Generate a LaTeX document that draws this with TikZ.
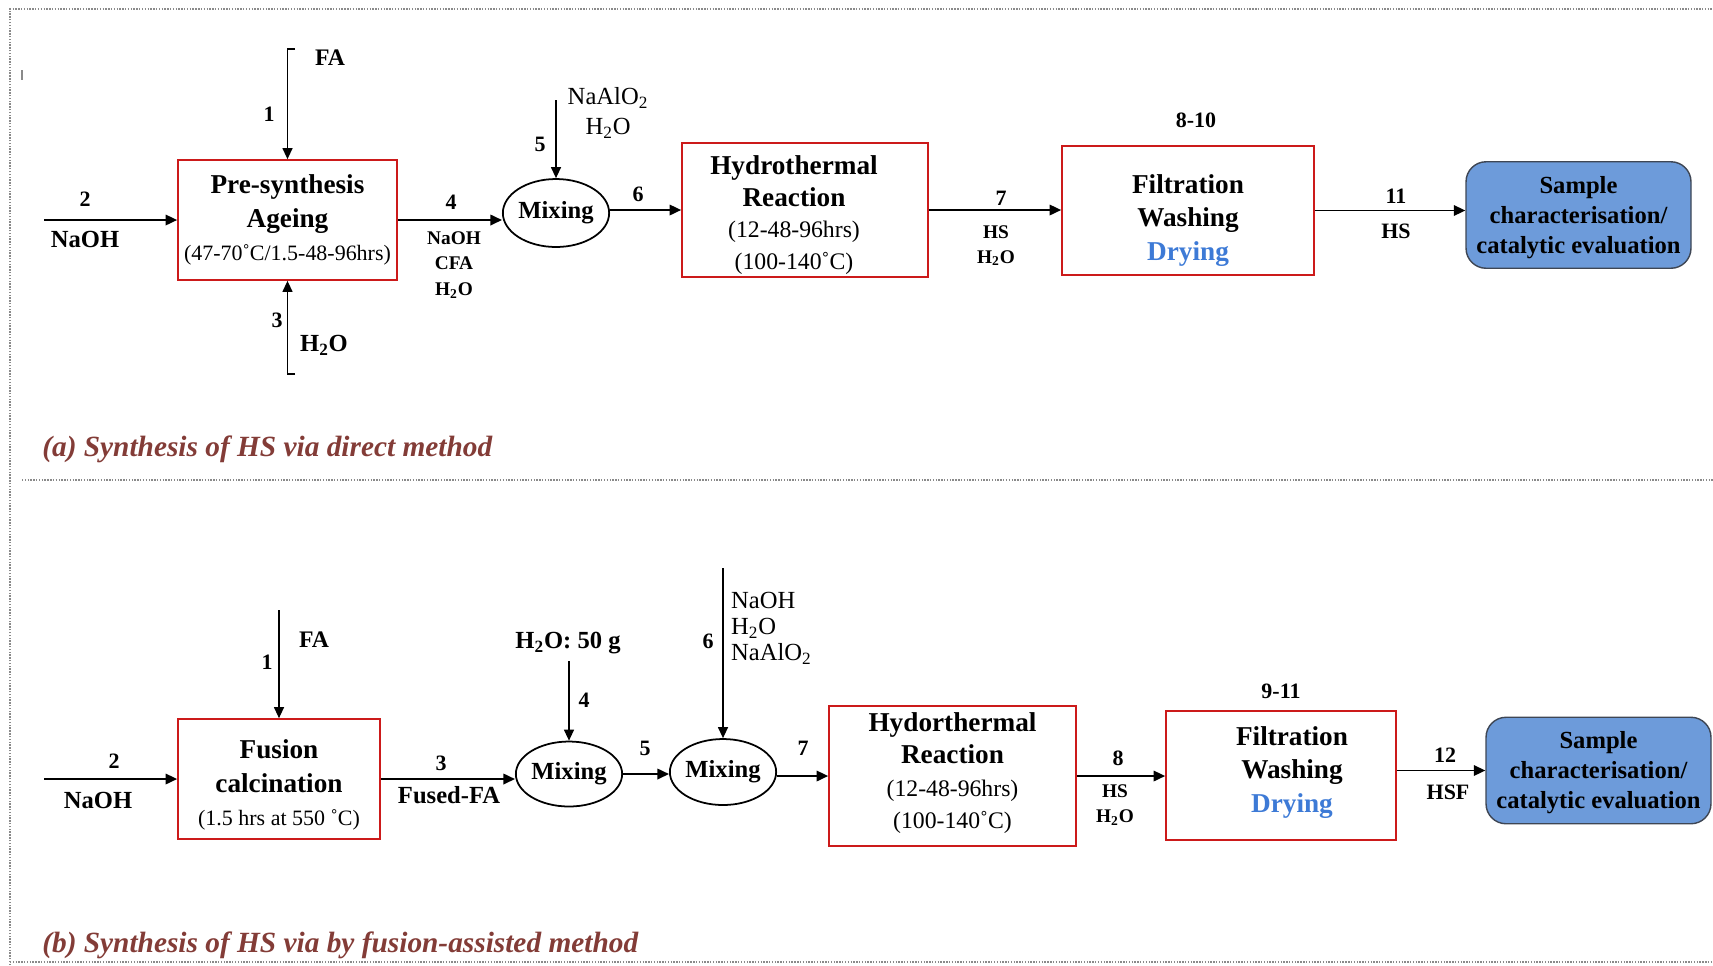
\documentclass[tikz,border=0pt]{standalone}
\usepackage{fontspec}
\setmainfont{Liberation Serif}
\usetikzlibrary{positioning,arrows.meta,shapes.geometric}
\definecolor{crojo}{HTML}{CC1A1A}
\definecolor{cazul}{HTML}{6D9BDA}
\definecolor{cborde}{HTML}{3E4654}
\definecolor{cseca}{HTML}{3D7AD6}
\definecolor{cvino}{HTML}{833C37}
\definecolor{cpunto}{HTML}{8A8A8A}
\newcommand{\ind}[1]{\textsubscript{#1}}
\newcommand{\fs}[2]{\fontsize{#1}{#2}\selectfont}
\tikzset{
  proc/.style={rectangle, draw=crojo, line width=1pt},
  ptxt/.style={align=center, inner sep=0pt, font=\fs{15.5}{19}\bfseries},
  mezcla/.style={ellipse, draw, line width=1pt, inner sep=0pt,
    minimum width=2.1cm, minimum height=1.36cm, font=\fs{14}{17}\bfseries},
  muestra/.style={rectangle, rounded corners=0.4cm, draw=cborde, line width=0.8pt,
    fill=cazul, minimum width=4.5cm, minimum height=2.13cm},
  stxt/.style={align=center, inner sep=0pt, font=\fs{14}{17}\bfseries},
  flujo/.style={-{Triangle[length=2.3mm,width=2.1mm]}, line width=1pt},
  entrada/.style={-{Triangle[length=2.2mm,width=2mm]}, line width=0.7pt},
  num/.style={font=\fs{12.5}{14}\bfseries, inner sep=1pt},
  etq/.style={font=\fs{14}{17}\bfseries, inner sep=1pt},
  etqc/.style={font=\fs{11}{14.5}\bfseries, align=center, inner sep=1pt},
  etqn/.style={font=\fs{14}{17}, align=center, inner sep=1pt},
  titulo/.style={font=\fs{16.7}{20}\bfseries\itshape, text=cvino, anchor=west, inner sep=0pt},
  marco/.style={draw=cpunto, line width=0.6pt, dash pattern=on 0.8pt off 0.8pt},
}

\begin{document}
\begin{tikzpicture}[x=0.02cm, y=-0.02cm]
  \useasboundingbox (0,0) rectangle (1713,965);
  % frame
  \draw[marco] (10,965) -- (10,9) -- (1713,9);
  \draw[marco] (22,480) -- (1713,480);
  \draw[marco] (10,962) -- (1713,962);
  \draw[cpunto, line width=0.6pt] (22,70) -- (22,80);

  % (a) direct method
  \node[proc, minimum width=4.38cm, minimum height=2.4cm,
    label={[ptxt]center:{Pre-synthesis\\ Ageing\\ {\fs{12.5}{19}\mdseries (47-70˚C/1.5-48-96hrs)}}}]
    (pre) at (287.5,220) {};
  \node[mezcla] (mixA) at (556,213) {Mixing};
  \node[proc, minimum width=4.92cm, minimum height=2.68cm,
    label={[ptxt, font=\fs{15.5}{18}\bfseries, xshift=-0.22cm, yshift=-0.1cm]center:{Hydrothermal\\ Reaction\\ {\fs{13.5}{18}\mdseries (12-48-96hrs)}\\ {\fs{13.5}{18}\mdseries (100-140˚C)}}}]
    (hydA) at (805,210) {};
  \node[proc, minimum width=5.04cm, minimum height=2.58cm,
    label={[ptxt, yshift=-0.2cm]center:{Filtration\\ Washing\\ \textcolor{cseca}{Drying}}}]
    (filA) at (1188,210.5) {};
  \node[muestra, label={[stxt, yshift=-0.05cm]center:{Sample\\ characterisation/\\ catalytic evaluation}}]
    (samA) at (1578.5,215) {};

  \coordinate (naoA) at (44,220);
  \coordinate (faA) at (295,49);
  \coordinate (h2A) at (295,374);
  \coordinate (alA) at (556,100);

  \draw[flujo] (naoA) -- (pre.west);
  \draw[entrada] (faA) -| (pre.north);
  \draw[entrada] (h2A) -| (pre.south);
  \draw[flujo] (pre.east) -- (pre.east -| mixA.west);
  \draw[entrada] (alA) -- (mixA.north);
  \draw[flujo] (mixA.east |- hydA.west) -- (hydA.west);
  \draw[flujo] (hydA.east) -- (hydA.east -| filA.west);
  \draw[flujo] (filA.east) -- (filA.east -| samA.west);

  \node[num] (n2A) at (85,199) {2};
  \node[etq] (naohA) at (85,239) {NaOH};
  \node[etq, font=\fs{13.5}{16}\bfseries] (faAl) at (330,58) {FA};
  \node[num] (n1A) at (269,114) {1};
  \node[num] (n3A) at (277,320) {3};
  \node[etq] (h2Al) at (324,345) {H\ind{2}O};
  \node[num] (n4A) at (451,202) {4};
  \node[etqc] (m4A) at (454,265) {NaOH\\ CFA\\ H\ind{2}O};
  \node[num] (n5A) at (540,144) {5};
  \node[etqn] (m5A) at (608,113) {NaAlO\ind{2}\\ H\ind{2}O};
  \node[num] (n6A) at (638,194) {6};
  \node[num] (n7A) at (1001,198) {7};
  \node[etqc, font=\fs{11}{13.7}\bfseries] (m7A) at (996,246) {HS\\ H\ind{2}O};
  \node[num, above=0.3cm of filA, xshift=0.16cm] (n8A) {8-10};
  \node[num] (n11A) at (1396,196) {11};
  \node[etq, font=\fs{12.5}{15}\bfseries] (m11A) at (1396,231) {HS};
  \node[titulo] (capA) at (42,449) {(a) Synthesis of HS via direct method};

  % (b) fusion-assisted method
  \node[proc, minimum width=4.04cm, minimum height=2.4cm,
    label={[ptxt, yshift=-0.12cm]center:{Fusion\\ calcination\\ {\fs{12.5}{19}\mdseries (1.5 hrs at 550 ˚C)}}}]
    (fus) at (279,779) {};
  \node[mezcla, minimum height=1.3cm] (mixB1) at (569,774) {Mixing};
  \node[mezcla, minimum height=1.32cm] (mixB2) at (723,772) {Mixing};
  \node[proc, minimum width=4.94cm, minimum height=2.8cm,
    label={[ptxt, font=\fs{15.5}{18.3}\bfseries, yshift=0.06cm]center:{Hydorthermal\\ Reaction\\ {\fs{13.5}{18.3}\mdseries (12-48-96hrs)}\\ {\fs{13.5}{18.3}\mdseries (100-140˚C)}}}]
    (hydB) at (952.5,776) {};
  \node[proc, minimum width=4.6cm, minimum height=2.58cm,
    label={[ptxt, xshift=0.22cm, yshift=0.06cm]center:{Filtration\\ Washing\\ \textcolor{cseca}{Drying}}}]
    (filB) at (1281,775.5) {};
  \node[muestra, label={[stxt, yshift=-0.04cm]center:{Sample\\ characterisation/\\ catalytic evaluation}}]
    (samB) at (1598.5,770.5) {};

  \coordinate (naoB) at (44,779);
  \coordinate (faB) at (279,610);
  \coordinate (wB) at (569,661);
  \coordinate (nB) at (723,568);

  \draw[flujo] (naoB) -- (fus.west);
  \draw[entrada] (faB) -- (fus.north);
  \draw[flujo] (fus.east) -- (fus.east -| mixB1.west);
  \draw[entrada] (wB) -- (mixB1.north);
  \draw[flujo] (mixB1.east) -- (mixB1.east -| mixB2.west);
  \draw[entrada] (nB) -- (mixB2.north);
  \draw[flujo] (mixB2.east |- hydB.west) -- (hydB.west);
  \draw[flujo] (hydB.east) -- (hydB.east -| filB.west);
  \draw[flujo] (filB.east |- samB.west) -- (samB.west);

  \node[num] (n2B) at (114,761) {2};
  \node[etq] (naohB) at (98,800) {NaOH};
  \node[etq, font=\fs{13.5}{16}\bfseries] (faBl) at (314,640) {FA};
  \node[num] (n1B) at (267,662) {1};
  \node[num] (n3B) at (441,763) {3};
  \node[etq] (m3B) at (449,795) {Fused-FA};
  \node[etq] (m4B) at (568,643) {H\ind{2}O: 50 g};
  \node[num] (n4B) at (584,700) {4};
  \node[num] (n5B) at (645,748) {5};
  \node[num] (n6B) at (708,641) {6};
  \node[etqn, font=\fs{14}{14.8}, align=left, anchor=west] (m6B) at (729,628) {NaOH\\ H\ind{2}O\\ NaAlO\ind{2}};
  \node[num] (n7B) at (803,748) {7};
  \node[num] (n8B) at (1118,758) {8};
  \node[etqc, font=\fs{11}{14.2}\bfseries] (m8B) at (1115,805) {HS\\ H\ind{2}O};
  \node[num, above=0.18cm of filB] (n9B) {9-11};
  \node[num] (n12B) at (1445,755) {12};
  \node[etq, font=\fs{12.5}{15}\bfseries] (m12B) at (1448,792) {HSF};
  \node[titulo] (capB) at (42,945) {(b) Synthesis of HS via by fusion-assisted method};
\end{tikzpicture}
\end{document}
